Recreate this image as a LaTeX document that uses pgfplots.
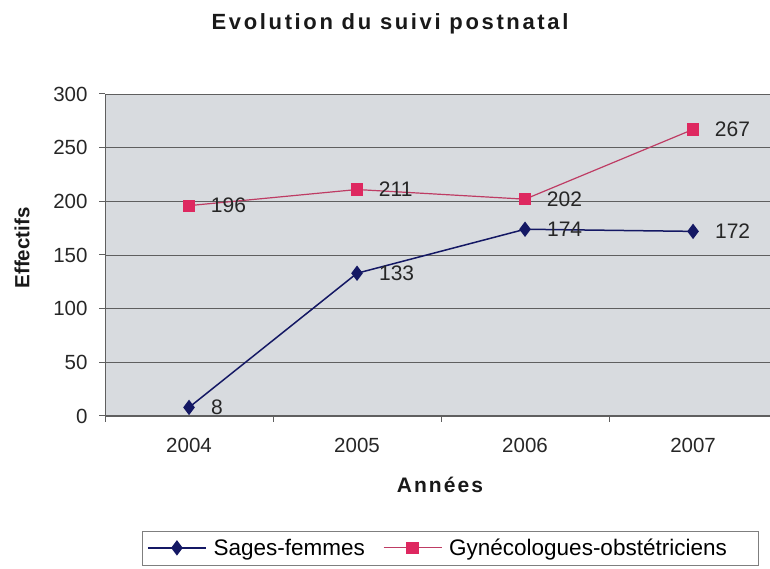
\documentclass[border=0pt]{standalone}
\usepackage{pgfplots}
\pgfplotsset{compat=1.18}
\usepackage{fontspec}
\setmainfont{Liberation Sans}
\newfontfamily\spaced[LetterSpace=12]{Liberation Sans}
\newfontfamily\spacedb[LetterSpace=10]{Liberation Sans}
\definecolor{bg}{RGB}{216,219,223}
\definecolor{navyc}{RGB}{20,24,100}
\definecolor{pinkm}{RGB}{222,40,96}
\definecolor{pinkl}{RGB}{190,60,100}
\definecolor{gridc}{RGB}{95,95,95}
\begin{document}
\begin{tikzpicture}[x=1pt,y=1pt]
\useasboundingbox (0,0) rectangle (770,569);
\begin{axis}[
  at={(105pt,153pt)}, anchor=south west,
  scale only axis, width=665pt, height=322pt,
  xmin=-0.5, xmax=3.458, ymin=0, ymax=300,
  axis x line=bottom, axis y line=left, axis line style={-, draw=gridc, line width=1pt},
  axis background/.style={fill=bg},
  ymajorgrids, grid style={draw=gridc, line width=0.8pt},
  ytick={0,50,...,300},
  xtick={-0.5,0.5,1.5,2.5}, xticklabels={},
  extra x ticks={0,1,2,3}, extra x tick labels={2004,2005,2006,2007},
  extra x tick style={major tick length=0pt, grid=none},
  tick align=outside, major tick length=6pt,
  tick style={draw=gridc, line width=1pt},
  /pgf/number format/assume math mode=true,
  ticklabel style={font=\fontsize{20.5}{24}\selectfont, text=black!85},
  yticklabel style={xshift=-8pt},
  xticklabel style={yshift=-19pt},
  nodes near coords,
  every node near coord/.append style={anchor=west, xshift=18pt, font=\fontsize{21}{25}\selectfont, text=black!85},
  legend columns=2,
  legend style={at={(axis description cs:0.0556,-0.356)}, anchor=north west,
    draw=gridc!80, fill=white, font=\fontsize{22.5}{26}\selectfont, inner xsep=5pt, inner ysep=6pt,
    /tikz/every odd column/.append style={column sep=5pt},
    /tikz/every even column/.append style={column sep=16pt}},
  legend image code/.code={\draw[mark repeat=2,mark phase=2] plot coordinates {(0pt,0pt)(29pt,0pt)(58pt,0pt)};},
]
\addplot[color=navyc, line width=1.5pt, mark=diamond*, mark size=6.5pt, mark options={fill=navyc, draw=navyc}]
  coordinates {(0,8) (1,133) (2,174) (3,172)};
\addlegendentry{Sages-femmes}
\addplot[color=pinkl, line width=1.2pt, mark=square*, mark size=5.5pt, mark options={fill=pinkm, draw=pinkm}]
  coordinates {(0,196) (1,211) (2,202) (3,267)};
\addlegendentry{\makebox[302pt][l]{Gynécologues-obstétriciens}}
\end{axis}
\node[anchor=base, font=\spaced\fontsize{22}{26}\selectfont\bfseries, text=black!90] at (390,539.5) {Evolution du suivi postnatal};
\node[font=\fontsize{20.5}{24}\selectfont\bfseries, text=black!90, rotate=90] at (22,321) {Effectifs};
\node[anchor=base, font=\spacedb\fontsize{21}{25}\selectfont\bfseries, text=black!90] at (440,76) {Années};
\end{tikzpicture}
\end{document}
